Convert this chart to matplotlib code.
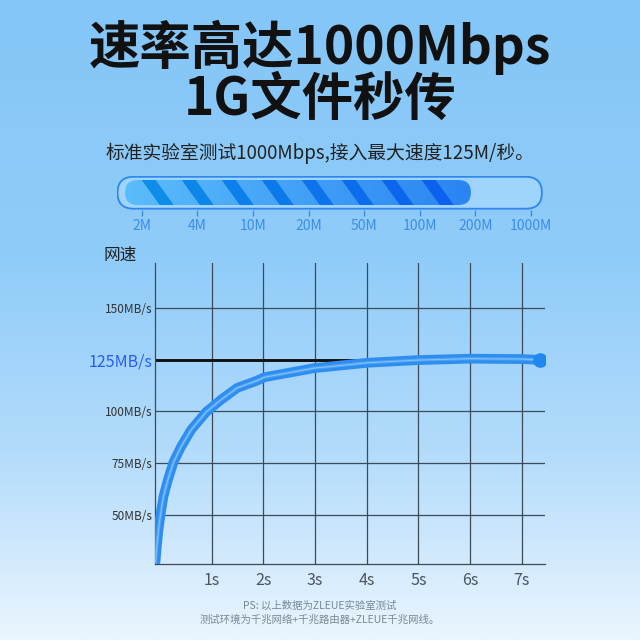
import numpy as np
import matplotlib
matplotlib.use('Agg')
import matplotlib.pyplot as plt
from matplotlib.colors import LinearSegmentedColormap, to_rgb
from matplotlib.patches import FancyBboxPatch, Polygon

plt.rcParams['font.family'] = ['Noto Sans CJK SC', 'DejaVu Sans']

# progress bar labels and how far it is filled (in label steps)
bar_labels = ['2M', '4M', '10M', '20M', '50M', '100M', '200M', '1000M']
bar_fill = 5.92

# speed curve (seconds, MB/s)
time_s = [-0.09, -0.066, -0.033, 0.006, 0.064, 0.149, 0.258, 0.407, 0.60, 0.89,
          1.18, 1.49, 1.86, 2.02, 2.98, 4.01, 4.98, 6.0, 7.01, 7.35]
speed = [27.0, 34.3, 42.5, 49.9, 58.7, 66.8, 75.4, 83.0, 91.1, 99.7,
         105.7, 111.4, 114.8, 116.6, 121.0, 123.6, 124.9, 125.6, 125.4, 125.0]
max_speed = 125
y_ticks = [50, 75, 100, 125, 150]
y_labels = ['50MB/s', '75MB/s', '100MB/s', '125MB/s', '150MB/s']
x_ticks = [1, 2, 3, 4, 5, 6, 7]
x_labels = ['1s', '2s', '3s', '4s', '5s', '6s', '7s']

W = H = 640
fig = plt.figure(figsize=(6.4, 6.4), dpi=100)

# background gradient
bg = fig.add_axes([0, 0, 1, 1], zorder=-10)
bg.axis('off')
bg_cmap = LinearSegmentedColormap.from_list('bg', [(0, '#84c6f8'), (0.4, '#90ccf9'),
                                                   (0.7, '#b2dbfb'), (1, '#eaf5fe')])
bg.imshow(np.linspace(0, 1, 256).reshape(-1, 1), cmap=bg_cmap, aspect='auto',
          extent=(0, 1, 1, 0))
bg.set_xlim(0, 1)
bg.set_ylim(1, 0)

# titles
fig.text(0.5, 1 - 47 / H, '速率高达1000Mbps', ha='center', va='center',
         fontsize=37, fontweight='bold', color='#111111')
fig.text(0.5, 1 - 99 / H, '1G文件秒传', ha='center', va='center',
         fontsize=37, fontweight='bold', color='#111111')
fig.text(0.5, 1 - 153 / H, '标准实验室测试1000Mbps,接入最大速度125M/秒。', ha='center',
         va='center', fontsize=13.5, color='#222222')

# progress bar
bl, br, bt, bb = 116.7, 542.7, 176, 209.5
bax = fig.add_axes([bl / W, 1 - bb / H, (br - bl) / W, (bb - bt) / H])
bax.set_xlim(-0.45, 7.21)
bax.set_ylim(0, 1)
ux = 7.66 / (br - bl)        # x data units per pixel
uy = 1 / (bb - bt)           # y data units per pixel
asp = uy / ux
bax.patch.set_visible(False)
for s in bax.spines.values():
    s.set_visible(False)
outer = FancyBboxPatch((-0.45 + 0.8 * ux, 0.8 * uy), 7.66 - 1.6 * ux, 1 - 1.6 * uy,
                       boxstyle='round,pad=0,rounding_size=%f' % (16 * ux),
                       mutation_aspect=asp, fc='#9fd4fb', ec='#2f86ee', lw=1.3)
bax.add_patch(outer)
x0 = -0.45 + 8.3 * ux
y0, y1 = 4.5 * uy, 1 - 4 * uy
inner = FancyBboxPatch((x0, y0), bar_fill - x0, y1 - y0,
                       boxstyle='round,pad=0,rounding_size=%f' % (12.5 * ux),
                       mutation_aspect=asp, fc='none', ec='none')
bax.add_patch(inner)
fill_cmap = LinearSegmentedColormap.from_list('fill', ['#5bbdfb', '#2a84f3'])
im = bax.imshow(np.linspace(0, 1, 256).reshape(1, -1), cmap=fill_cmap, aspect='auto',
                extent=(x0, bar_fill, y0, y1), zorder=2)
im.set_clip_path(inner)
c0, c1 = np.array(to_rgb('#0d8ce8')), np.array(to_rgb('#0b60ee'))
for k in range(8):
    sx = 40 * k * ux
    poly = Polygon([(sx, y1), (sx + 14 * ux, y1), (sx + 32 * ux, y0), (sx + 18 * ux, y0)],
                   closed=True, fc=c0 + (c1 - c0) * k / 7, ec='none', zorder=3)
    bax.add_patch(poly)
    poly.set_clip_path(inner)
bax.set_yticks([])
bax.set_xticks(range(len(bar_labels)))
bax.set_xticklabels(bar_labels)
bax.tick_params(axis='x', length=4, width=1, color='#3d8de8', pad=3,
                labelsize=10, labelcolor='#3d8de8')

# speed chart
ax = fig.add_axes([155 / W, 1 - 564 / H, 390 / W, 301 / H])
ax.patch.set_visible(False)
ax.set_xlim(-0.1, 7.45)
ax.set_ylim(26, 172)
grid_c = '#3b4b58'
for v in y_ticks:
    ax.axhline(v, color=grid_c, lw=0.9, zorder=1)
for t in x_ticks:
    ax.axvline(t, color=grid_c, lw=0.9, zorder=1)
for side in ['top', 'right']:
    ax.spines[side].set_visible(False)
for side in ['left', 'bottom']:
    ax.spines[side].set_color(grid_c)
    ax.spines[side].set_linewidth(0.9)
ax.plot([ax.get_xlim()[0], time_s[-1]], [max_speed, max_speed], color='#111111',
        lw=2.1, zorder=2, solid_capstyle='butt')
ax.plot(time_s, speed, color='#2e8ef0', lw=7, zorder=3, solid_capstyle='round',
        solid_joinstyle='round')
ax.plot(time_s, speed, color='#74bdfa', lw=2.2, alpha=0.5, zorder=4,
        solid_joinstyle='round')
ax.plot(time_s, speed, color='#ffffff', lw=0.6, alpha=0.35, zorder=4)
ax.plot(time_s[-1:], speed[-1:], 'o', ms=9.5, color='#2087ef', zorder=5)
ax.set_yticks(y_ticks)
ax.set_yticklabels(y_labels)
ax.set_xticks(x_ticks)
ax.set_xticklabels(x_labels)
ax.tick_params(axis='y', length=0, pad=2, labelsize=8.5, labelcolor='#333333')
ax.tick_params(axis='x', length=0, pad=6, labelsize=11.5, labelcolor='#4a5560')
for lab in ax.get_yticklabels():
    if lab.get_text() == '125MB/s':
        lab.set_color('#2a5cf5')
        lab.set_fontsize(11.5)

fig.text(104 / W, 1 - 255 / H, '网速', ha='left', va='center', fontsize=12, color='#222222')

fig.text(0.5, 1 - 606 / H, 'PS: 以上数据为ZLEUE实验室测试', ha='center', va='center',
         fontsize=7.5, color='#7a8896')
fig.text(0.5, 1 - 620 / H, '测试环境为千兆网络+千兆路由器+ZLEUE千兆网线。', ha='center',
         va='center', fontsize=7.5, color='#7a8896')

fig.savefig('out.png', dpi=100)
